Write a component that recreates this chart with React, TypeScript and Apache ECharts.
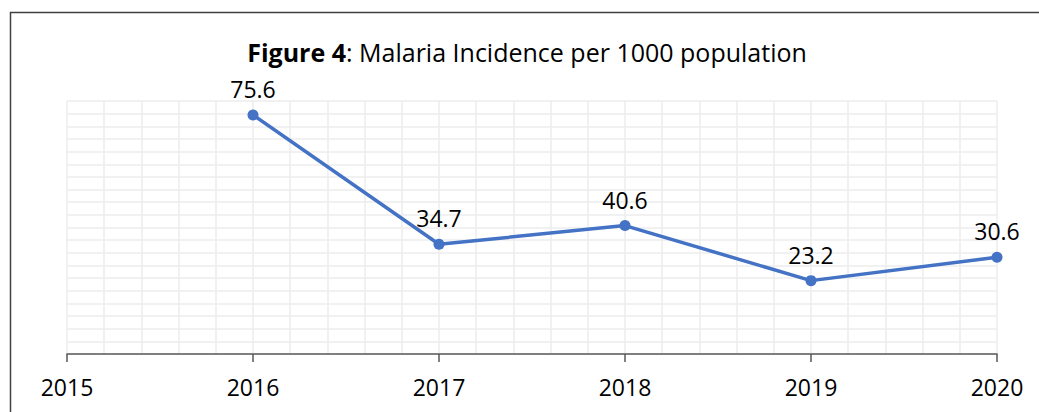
import React, { useEffect, useRef } from "react";
import * as echarts from "echarts";

const years: number[] = [2015, 2016, 2017, 2018, 2019, 2020];
const dataYears: number[] = [2016, 2017, 2018, 2019, 2020];
const incidence: number[] = [75.6, 34.7, 40.6, 23.2, 30.6];
const titleBold = "Figure 4";
const titleRest = ": Malaria Incidence per 1000 population";

const FONT = "'Open Sans', 'Noto Sans', sans-serif";

export default function App() {
  const ref = useRef<HTMLDivElement>(null);
  useEffect(() => {
    if (!ref.current) return;
    const chart = echarts.init(ref.current, undefined, { renderer: "svg" });
    chart.setOption({
      animation: false,
      backgroundColor: "#ffffff",
      grid: { left: 67, right: 42, top: 101, bottom: 58, containLabel: false },
      graphic: [
        {
          type: "rect",
          shape: { x: 10.5, y: 12.5, width: 1100, height: 500 },
          style: { fill: "none", stroke: "#404040", lineWidth: 1.5 },
          silent: true,
        },
        {
          type: "text",
          x: 527,
          y: 52,
          style: {
            text: `{b|${titleBold}}{r|${titleRest}}`,
            align: "center",
            verticalAlign: "middle",
            rich: {
              b: { fontFamily: FONT, fontSize: 25, fontWeight: "bold", fill: "#000" },
              r: { fontFamily: FONT, fontSize: 25, fill: "#000" },
            },
          },
        },
      ],
      xAxis: {
        type: "value",
        min: years[0],
        max: years[years.length - 1],
        interval: 1,
        axisLine: { show: true, onZero: false, lineStyle: { color: "#595959", width: 1.5 } },
        axisTick: { show: true, length: 8, lineStyle: { color: "#595959", width: 1.5 } },
        axisLabel: {
          margin: 21,
          fontFamily: FONT,
          fontSize: 23,
          color: "#000",
          formatter: (v: number) => (years.includes(v) ? String(v) : ""),
        },
        splitLine: { show: true, lineStyle: { color: "#ececec", width: 1.5 } },
        minorTick: { show: false, splitNumber: 5 },
        minorSplitLine: { show: true, lineStyle: { color: "#ececec", width: 1.5 } },
      },
      yAxis: {
        type: "value",
        min: 0,
        max: 80,
        interval: 4,
        axisLine: { show: false },
        axisTick: { show: false },
        axisLabel: { show: false },
        splitLine: { show: true, lineStyle: { color: "#ececec", width: 1.5 } },
      },
      series: [
        {
          type: "line",
          data: dataYears.map((y, i) => [y, incidence[i]]),
          symbol: "circle",
          symbolSize: 11,
          lineStyle: { color: "#4472C4", width: 3.5 },
          itemStyle: { color: "#4472C4" },
          label: {
            show: true,
            position: "top",
            distance: 9,
            fontFamily: FONT,
            fontSize: 23,
            color: "#000",
            formatter: (p: any) => p.value[1].toFixed(1),
          },
        },
      ],
    });
    return () => chart.dispose();
  }, []);
  return (
    <div
      ref={ref}
      style={{ position: "absolute", left: 0, top: 0, width: 1039, height: 412 }}
    />
  );
}
